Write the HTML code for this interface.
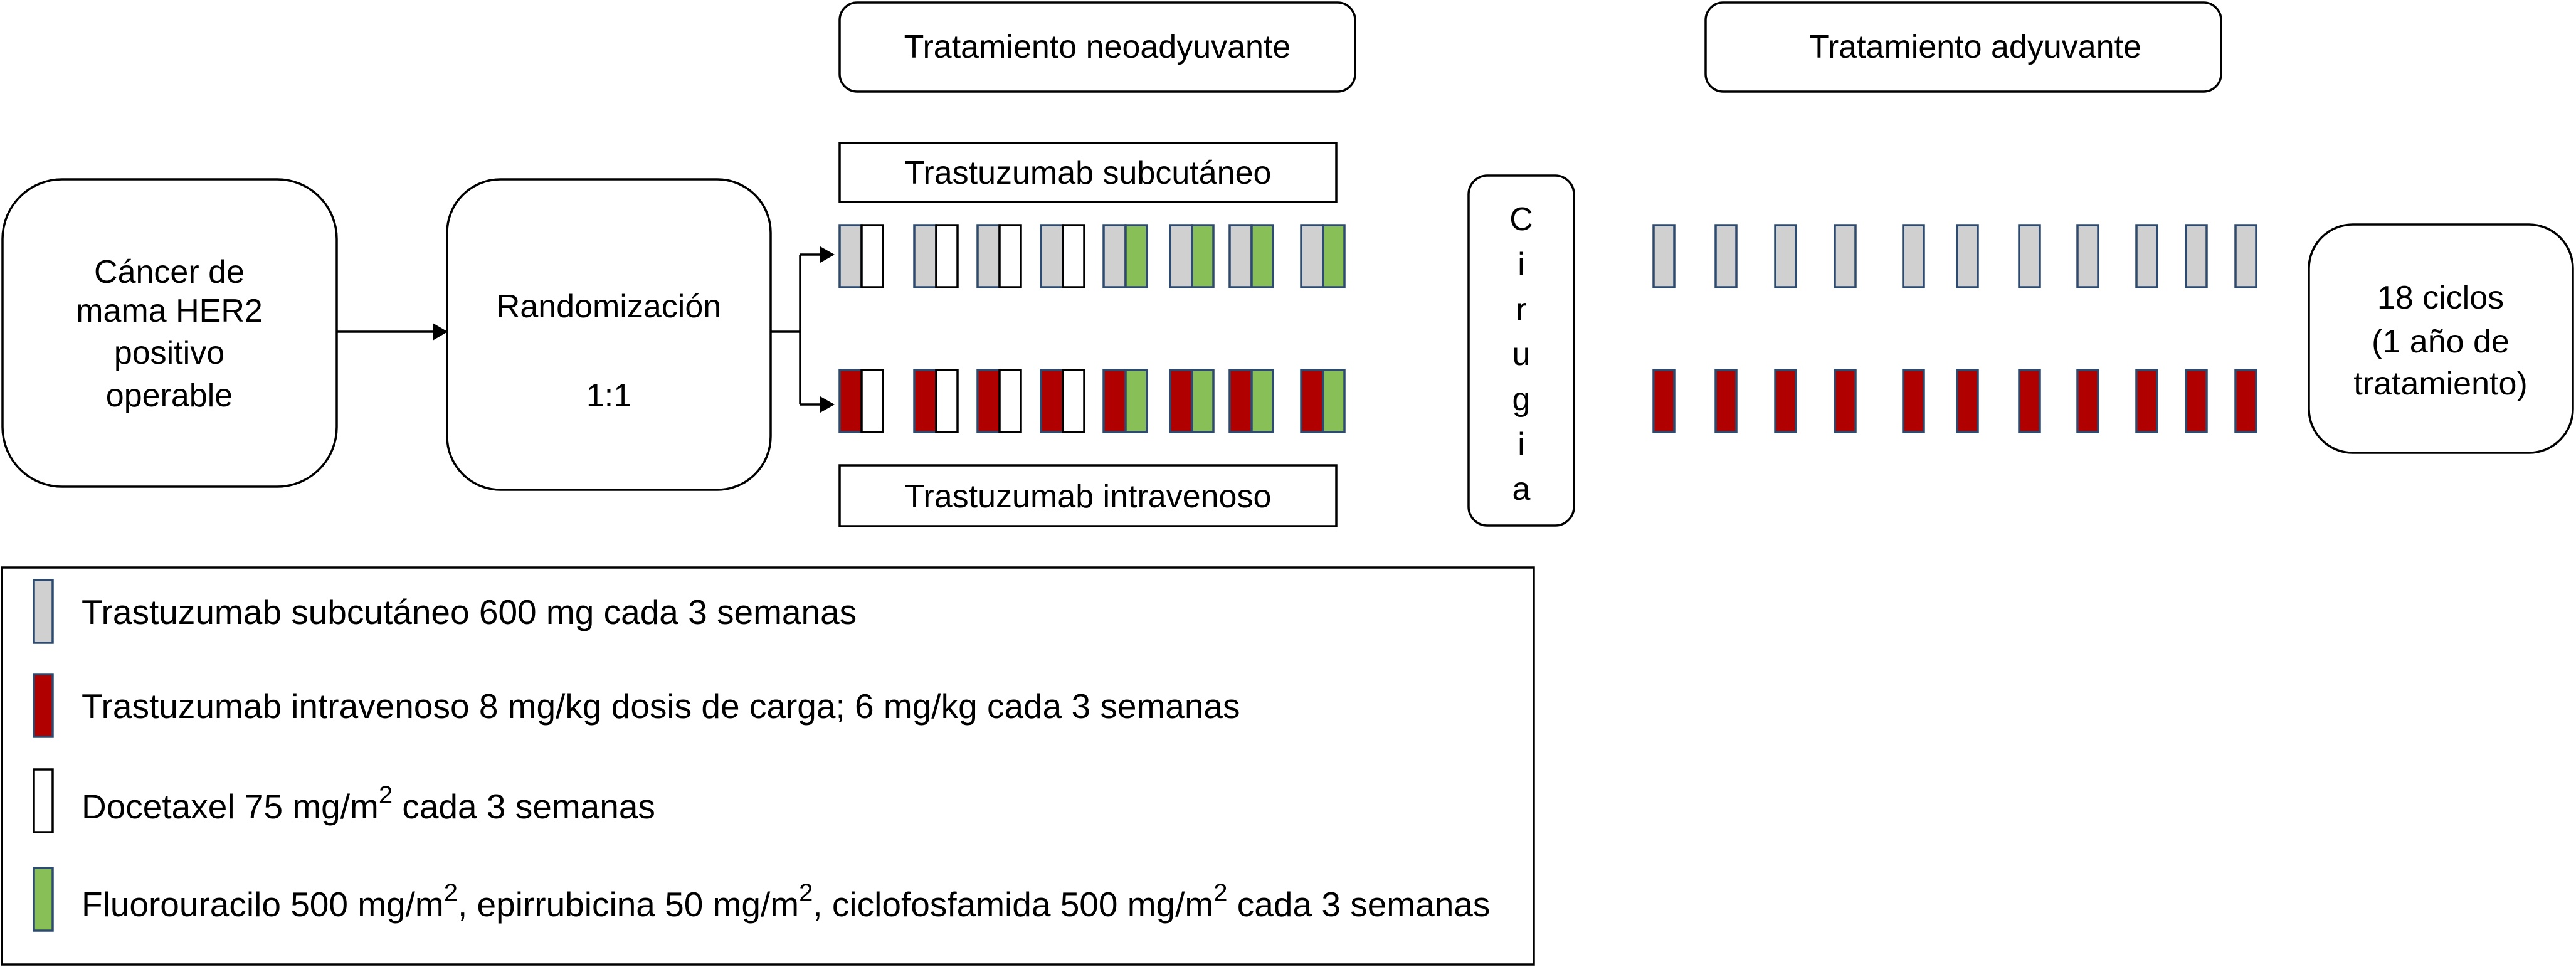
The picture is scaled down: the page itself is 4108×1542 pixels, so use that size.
<!DOCTYPE html>
<html><head><meta charset="utf-8"><style>
html,body{margin:0;padding:0;background:#fff;}
svg{display:block;}
text{font-family:"Liberation Sans",Arial,sans-serif;fill:#000;}
</style></head><body>
<svg width="4108" height="1542" viewBox="0 0 4108 1542" xmlns="http://www.w3.org/2000/svg">
<g fill="none" stroke="#000" stroke-width="3.5">
<rect x="1339" y="4" width="822" height="142" rx="28"/>
<rect x="2720" y="4" width="822" height="142" rx="28"/>
<rect x="4" y="286" width="533" height="490" rx="95"/>
<rect x="713" y="286" width="516" height="495" rx="85"/>
<rect x="1339" y="228" width="792" height="94"/>
<rect x="1339" y="742" width="792" height="97"/>
<rect x="2342" y="280" width="168" height="558" rx="30"/>
<rect x="3682" y="358" width="421" height="364" rx="70"/>
<rect x="3" y="905" width="2443" height="633"/>
<line x1="537" y1="529" x2="690" y2="529"/>
<line x1="1229" y1="529" x2="1276" y2="529"/>
<line x1="1276" y1="406" x2="1276" y2="645"/>
<line x1="1276" y1="406" x2="1310" y2="406"/>
<line x1="1276" y1="645" x2="1310" y2="645"/>
</g>
<g fill="#000">
<path d="M690,515 L714,529 L690,543 z"/>
<path d="M1308,393 L1331,406 L1308,419 z"/>
<path d="M1308,632 L1331,645 L1308,658 z"/>
</g>
<g font-size="52" text-anchor="middle">
<text x="1750" y="92">Tratamiento neoadyuvante</text>
<text x="3150" y="92">Tratamiento adyuvante</text>
<text x="1735" y="293">Trastuzumab subcutáneo</text>
<text x="1735" y="809">Trastuzumab intravenoso</text>
<text x="270" y="451">Cáncer de</text>
<text x="270" y="513">mama HER2</text>
<text x="270" y="580">positivo</text>
<text x="270" y="648">operable</text>
<text x="971" y="506">Randomización</text>
<text x="971" y="648">1:1</text>
<text x="3892" y="492">18 ciclos</text>
<text x="3892" y="562">(1 año de</text>
<text x="3892" y="629">tratamiento)</text>
<text x="2426" y="367">C</text>
<text x="2426" y="439">i</text>
<text x="2426" y="511">r</text>
<text x="2426" y="582">u</text>
<text x="2426" y="654">g</text>
<text x="2426" y="726">i</text>
<text x="2426" y="797">a</text>
</g>
<g stroke-width="3.5">
<rect x="1339" y="359" width="35" height="99" fill="#d0d0d0" stroke="#2e4a6e"/><rect x="1374" y="359" width="34" height="99" fill="#fff" stroke="#000"/>
<rect x="1458" y="359" width="35" height="99" fill="#d0d0d0" stroke="#2e4a6e"/><rect x="1493" y="359" width="34" height="99" fill="#fff" stroke="#000"/>
<rect x="1559" y="359" width="35" height="99" fill="#d0d0d0" stroke="#2e4a6e"/><rect x="1594" y="359" width="34" height="99" fill="#fff" stroke="#000"/>
<rect x="1660" y="359" width="35" height="99" fill="#d0d0d0" stroke="#2e4a6e"/><rect x="1695" y="359" width="34" height="99" fill="#fff" stroke="#000"/>
<rect x="1760" y="359" width="35" height="99" fill="#d0d0d0" stroke="#2e4a6e"/><rect x="1795" y="359" width="34" height="99" fill="#88c057" stroke="#2e4a6e"/>
<rect x="1866" y="359" width="35" height="99" fill="#d0d0d0" stroke="#2e4a6e"/><rect x="1901" y="359" width="34" height="99" fill="#88c057" stroke="#2e4a6e"/>
<rect x="1961" y="359" width="35" height="99" fill="#d0d0d0" stroke="#2e4a6e"/><rect x="1996" y="359" width="34" height="99" fill="#88c057" stroke="#2e4a6e"/>
<rect x="2075" y="359" width="35" height="99" fill="#d0d0d0" stroke="#2e4a6e"/><rect x="2110" y="359" width="34" height="99" fill="#88c057" stroke="#2e4a6e"/>
<rect x="1339" y="590" width="35" height="99" fill="#b00000" stroke="#2e4a6e"/><rect x="1374" y="590" width="34" height="99" fill="#fff" stroke="#000"/>
<rect x="1458" y="590" width="35" height="99" fill="#b00000" stroke="#2e4a6e"/><rect x="1493" y="590" width="34" height="99" fill="#fff" stroke="#000"/>
<rect x="1559" y="590" width="35" height="99" fill="#b00000" stroke="#2e4a6e"/><rect x="1594" y="590" width="34" height="99" fill="#fff" stroke="#000"/>
<rect x="1660" y="590" width="35" height="99" fill="#b00000" stroke="#2e4a6e"/><rect x="1695" y="590" width="34" height="99" fill="#fff" stroke="#000"/>
<rect x="1760" y="590" width="35" height="99" fill="#b00000" stroke="#2e4a6e"/><rect x="1795" y="590" width="34" height="99" fill="#88c057" stroke="#2e4a6e"/>
<rect x="1866" y="590" width="35" height="99" fill="#b00000" stroke="#2e4a6e"/><rect x="1901" y="590" width="34" height="99" fill="#88c057" stroke="#2e4a6e"/>
<rect x="1961" y="590" width="35" height="99" fill="#b00000" stroke="#2e4a6e"/><rect x="1996" y="590" width="34" height="99" fill="#88c057" stroke="#2e4a6e"/>
<rect x="2075" y="590" width="35" height="99" fill="#b00000" stroke="#2e4a6e"/><rect x="2110" y="590" width="34" height="99" fill="#88c057" stroke="#2e4a6e"/>
<g fill="#d0d0d0" stroke="#2e4a6e">
<rect x="2637" y="359" width="33" height="99"/><rect x="2736" y="359" width="33" height="99"/><rect x="2831" y="359" width="33" height="99"/><rect x="2926" y="359" width="33" height="99"/><rect x="3035" y="359" width="33" height="99"/><rect x="3121" y="359" width="33" height="99"/><rect x="3220" y="359" width="33" height="99"/><rect x="3313" y="359" width="33" height="99"/><rect x="3407" y="359" width="33" height="99"/><rect x="3486" y="359" width="33" height="99"/><rect x="3565" y="359" width="33" height="99"/>
</g>
<g fill="#b00000" stroke="#2e4a6e">
<rect x="2637" y="590" width="33" height="99"/><rect x="2736" y="590" width="33" height="99"/><rect x="2831" y="590" width="33" height="99"/><rect x="2926" y="590" width="33" height="99"/><rect x="3035" y="590" width="33" height="99"/><rect x="3121" y="590" width="33" height="99"/><rect x="3220" y="590" width="33" height="99"/><rect x="3313" y="590" width="33" height="99"/><rect x="3407" y="590" width="33" height="99"/><rect x="3486" y="590" width="33" height="99"/><rect x="3565" y="590" width="33" height="99"/>
</g>
<rect x="54" y="925" width="30" height="100" fill="#d0d0d0" stroke="#2e4a6e"/>
<rect x="54" y="1075" width="30" height="100" fill="#b00000" stroke="#2e4a6e"/>
<rect x="54" y="1227" width="30" height="100" fill="#fff" stroke="#000"/>
<rect x="54" y="1384" width="30" height="100" fill="#88c057" stroke="#2e4a6e"/>
</g>
<g font-size="55">
<text x="130" y="995">Trastuzumab subcutáneo 600 mg cada 3 semanas</text>
<text x="130" y="1145">Trastuzumab intravenoso 8 mg/kg dosis de carga; 6 mg/kg cada 3 semanas</text>
<text x="130" y="1305">Docetaxel 75 mg/m<tspan font-size="40" dy="-24">2</tspan><tspan dy="24"> cada 3 semanas</tspan></text>
<text x="130" y="1461">Fluorouracilo 500 mg/m<tspan font-size="40" dy="-24">2</tspan><tspan dy="24">, epirrubicina 50 mg/m</tspan><tspan font-size="40" dy="-24">2</tspan><tspan dy="24">, ciclofosfamida 500 mg/m</tspan><tspan font-size="40" dy="-24">2</tspan><tspan dy="24"> cada 3 semanas</tspan></text>
</g>
</svg>
</body></html>
